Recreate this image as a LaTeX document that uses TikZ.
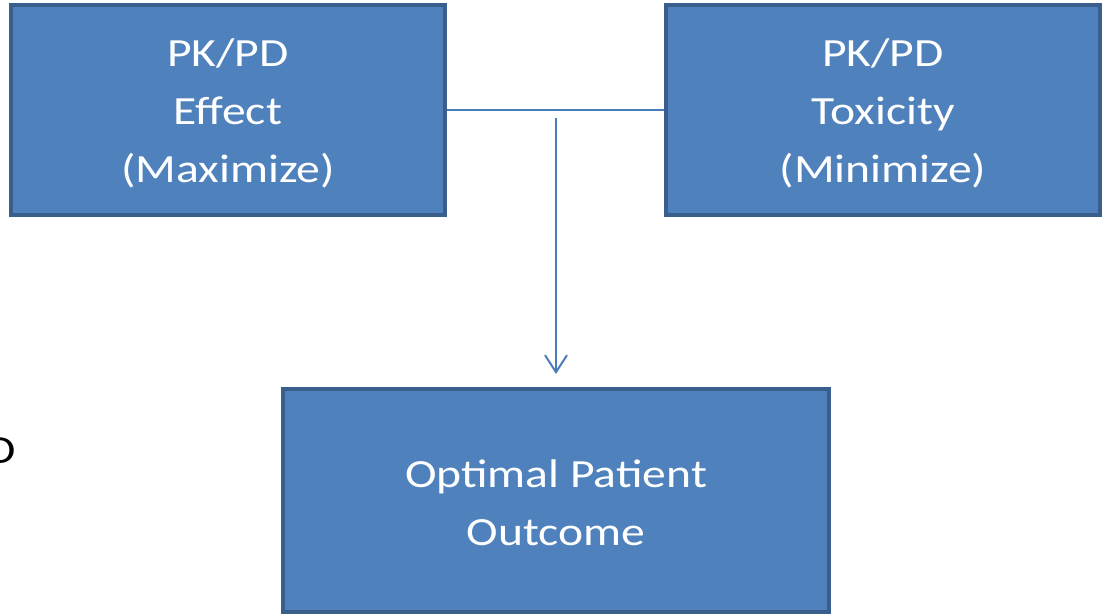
\documentclass[tikz,border=0pt]{standalone}
\usepackage{fontspec}
\setmainfont{Carlito}[FakeStretch=1.19]
\usetikzlibrary{arrows.meta}
\definecolor{boxfill}{HTML}{4F81BD}
\definecolor{boxline}{HTML}{3A5F8C}
\definecolor{conn}{HTML}{4A7EBB}
\begin{document}
\begin{tikzpicture}[x=1pt,y=-1pt,
  box/.style={draw=boxline,fill=boxfill,line width=3.5pt},
  lbl/.style={text=white,align=center,inner sep=0pt,font=\fontsize{40}{58}\selectfont},
  link/.style={draw=conn,line width=2pt}]
\useasboundingbox (0,0) rectangle (1105,614);
\node[box,minimum width=434pt,minimum height=210pt] (eff) at (228,110) {};
\node[box,minimum width=434pt,minimum height=210pt] (tox) at (883,110) {};
\node[box,minimum width=546pt,minimum height=223pt] (out) at (556,500.5) {};
\node[lbl] (efft) at (228,113) {PK/PD\\Effect\\(Maximize)};
\node[lbl] (toxt) at (883,113) {PK/PD\\Toxicity\\(Minimize)};
\node[lbl] (outt) at (556,503) {Optimal Patient\\Outcome};
\node[anchor=base east,inner sep=0pt,font=\fontsize{40}{58}\selectfont] (d) at (16,463) {D};
\coordinate (j) at (556,118);
\coordinate (tip) at (556,374);
\draw[link] (eff.east |- 0,110) -- (tox.west |- 0,110);
\draw[link,-{Straight Barb[length=17pt,width=22pt,line width=2pt]}] (j) -- (tip);
\end{tikzpicture}
\end{document}
